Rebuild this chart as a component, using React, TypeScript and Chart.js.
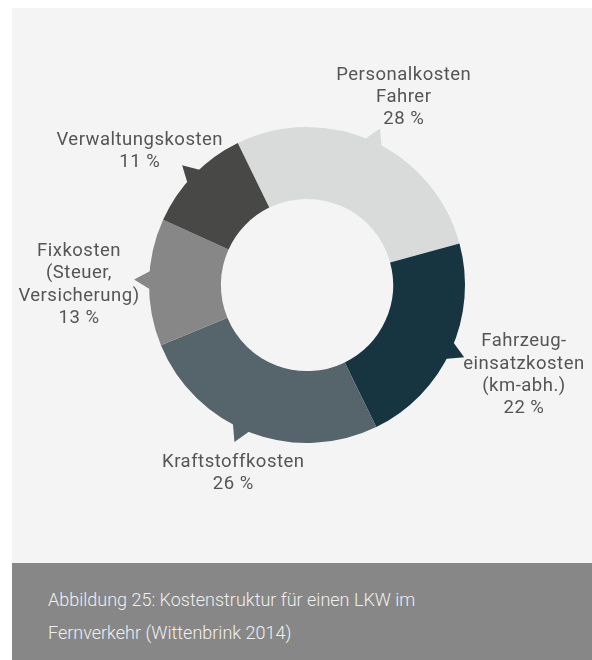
import React, { useEffect, useRef } from "react";
import { Chart, registerables } from "chart.js";

Chart.register(...registerables);

// ---- data ----
const categories = [
  ["Personalkosten", "Fahrer"],
  ["Fahrzeug-", "einsatzkosten", "(km-abh.)"],
  ["Kraftstoffkosten"],
  ["Fixkosten", "(Steuer,", "Versicherung)"],
  ["Verwaltungskosten"],
];
const shares = [28, 22, 26, 13, 11];
const colors = ["#d9dbda", "#163540", "#56656c", "#878787", "#484846"];
const captionLines = [
  "Abbildung 25: Kostenstruktur für einen LKW im",
  "Fernverkehr (Wittenbrink 2014)",
];

// ---- layout (not data) ----
const labelAngleShift = [2.9, -1.8, 0.6, -1.0, -5.6]; // degrees from arc middle
const labelDistance = [211, 235, 202, 228, 214];
const tailAngleShift = [0.6, 0.3, 4.0, 0.8, -0.4];

const deg = Math.PI / 180;

const calloutPlugin = {
  id: "callouts",
  afterDatasetsDraw(chart: any) {
    const ctx = chart.ctx;
    const meta = chart.getDatasetMeta(0);
    meta.data.forEach((arc: any, i: number) => {
      const { x, y, startAngle, endAngle, outerRadius } = arc.getProps(
        ["x", "y", "startAngle", "endAngle", "outerRadius"],
        true
      );
      const mid = (startAngle + endAngle) / 2;
      // tail triangle
      const ta = mid + tailAngleShift[i] * deg;
      const half = 3.6 * deg;
      ctx.save();
      ctx.fillStyle = colors[i];
      ctx.beginPath();
      ctx.moveTo(x + Math.cos(ta - half) * (outerRadius - 2), y + Math.sin(ta - half) * (outerRadius - 2));
      ctx.lineTo(x + Math.cos(ta) * (outerRadius + 15), y + Math.sin(ta) * (outerRadius + 15));
      ctx.lineTo(x + Math.cos(ta + half) * (outerRadius - 2), y + Math.sin(ta + half) * (outerRadius - 2));
      ctx.closePath();
      ctx.fill();
      ctx.restore();

      // label
      const la = mid + labelAngleShift[i] * deg;
      const lx = x + Math.cos(la) * labelDistance[i];
      const ly = y + Math.sin(la) * labelDistance[i];
      const lines = [...categories[i], `${shares[i]} %`];
      const lh = 22.3;
      ctx.save();
      ctx.font = "18.5px Roboto";
      (ctx as any).letterSpacing = "0.5px";
      ctx.fillStyle = "#555555";
      ctx.textAlign = "center";
      ctx.textBaseline = "middle";
      const top = ly - ((lines.length - 1) * lh) / 2;
      lines.forEach((t, k) => ctx.fillText(t, lx, top + k * lh));
      ctx.restore();
    });
  },
};

export default function App() {
  const ref = useRef<HTMLCanvasElement>(null);
  useEffect(() => {
    if (!ref.current) return;
    const chart = new Chart(ref.current, {
      type: "doughnut",
      data: {
        labels: categories.map((c) => c.join(" ")),
        datasets: [
          {
            data: shares,
            backgroundColor: colors,
            borderWidth: 0,
            hoverOffset: 0,
            offset: 0,
          },
        ],
      },
      options: {
        responsive: false,
        devicePixelRatio: 1,
        animation: false,
        rotation: -26,
        cutout: "54.5%",
        layout: { padding: { left: 149, top: 127, right: 127, bottom: 120 } },
        plugins: { legend: { display: false }, tooltip: { enabled: false } },
        events: [],
      },
      plugins: [calloutPlugin],
    });
    return () => chart.destroy();
  }, []);

  return (
    <div
      style={{
        position: "absolute",
        left: 0,
        top: 0,
        width: 592,
        height: 660,
        background: "#ffffff",
        overflow: "hidden",
      }}
    >
      <div
        style={{
          position: "absolute",
          left: 12,
          top: 8,
          width: 580,
          height: 555,
          background: "#f4f4f4",
        }}
      />
      <canvas
        ref={ref}
        width={592}
        height={563}
        style={{ position: "absolute", left: 0, top: 0, width: 592, height: 563 }}
      />
      <div
        style={{
          position: "absolute",
          left: 12,
          top: 563,
          width: 580,
          height: 97,
          background: "#878787",
        }}
      >
        {captionLines.map((t, i) => (
          <div
            key={i}
            style={{
              position: "absolute",
              left: 36,
              top: 24 + i * 33,
              height: 26,
              lineHeight: "26px",
              fontFamily: "Roboto",
              fontWeight: 300,
              fontSize: 18,
              color: "#efefef",
              whiteSpace: "nowrap",
            }}
          >
            {t}
          </div>
        ))}
      </div>
    </div>
  );
}
